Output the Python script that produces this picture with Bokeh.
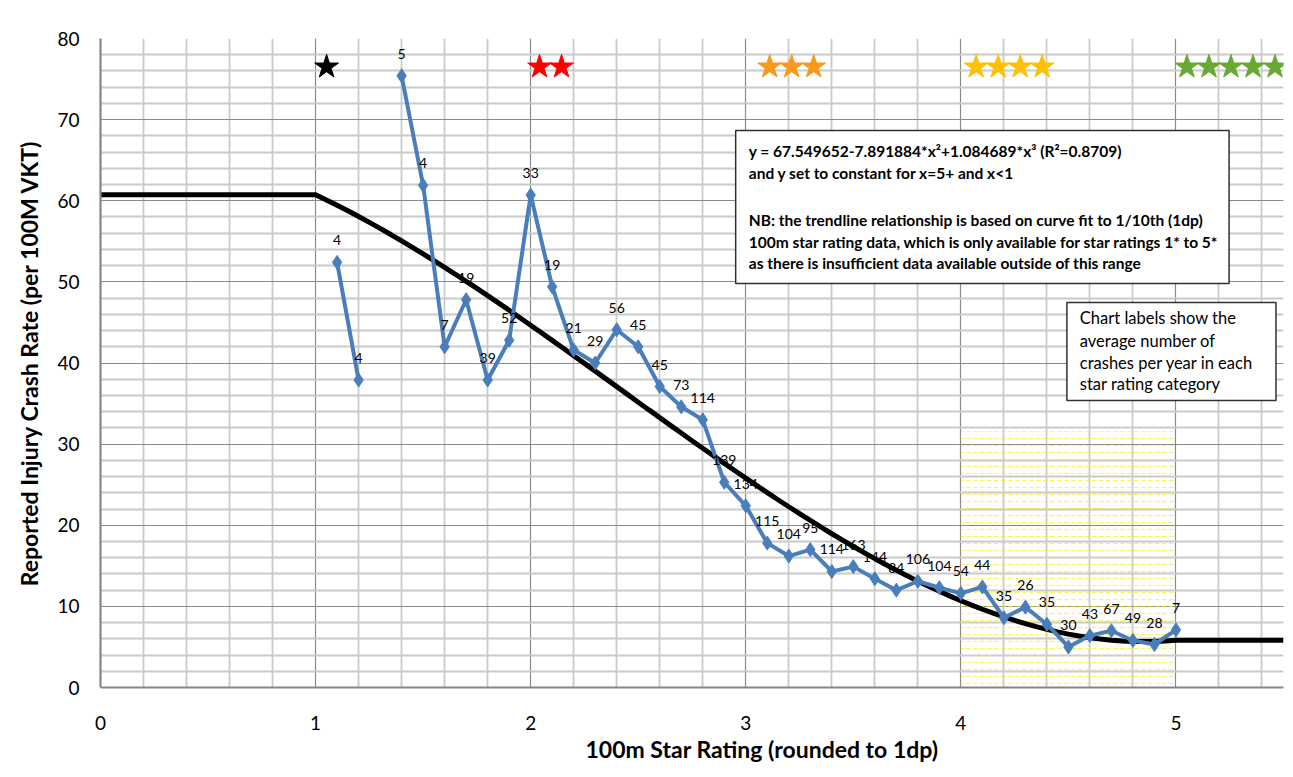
import numpy as np
from bokeh.plotting import figure
from bokeh.models import FixedTicker, ColumnDataSource, Range1d, Title
from bokeh.core.properties import value
from bokeh.embed import file_html
from bokeh.resources import INLINE

# ---------------- data ----------------
star_rating = [1.1, 1.2, 1.3, 1.4, 1.5, 1.6, 1.7, 1.8, 1.9, 2.0,
               2.1, 2.2, 2.3, 2.4, 2.5, 2.6, 2.7, 2.8, 2.9, 3.0,
               3.1, 3.2, 3.3, 3.4, 3.5, 3.6, 3.7, 3.8, 3.9, 4.0,
               4.1, 4.2, 4.3, 4.4, 4.5, 4.6, 4.7, 4.8, 4.9, 5.0]
crash_rate = [52.4, 37.9, np.nan, 75.4, 61.9, 42.0, 47.8, 37.9, 42.8, 60.7,
              49.4, 41.6, 40.0, 44.1, 42.0, 37.1, 34.6, 33.0, 25.3, 22.4,
              17.8, 16.2, 17.0, 14.3, 14.9, 13.4, 12.0, 13.1, 12.3, 11.6,
              12.4, 8.6, 9.9, 7.8, 5.0, 6.4, 7.0, 5.8, 5.3, 7.1]
crashes_per_year = ["4", "4", "", "5", "4", "7", "19", "39", "52", "33",
                    "19", "21", "29", "56", "45", "45", "73", "114", "139", "134",
                    "115", "104", "95", "114", "163", "144", "84", "106", "104", "54",
                    "44", "35", "26", "35", "30", "43", "67", "49", "28", "7"]

# trendline coefficients as stated on the chart: y = a + b*x^2 + c*x^3, constant for x<1 and x>=5
trend_a, trend_b, trend_c = 67.549652, -7.891884, 1.084689
trend_x = [0.0] + [round(1 + 0.05 * i, 2) for i in range(81)] + [5.5]

star_ratings = [1, 2, 3, 4, 5]
star_group_start = [1.0, 1.99, 3.06, 4.02, 5.0]
star_colors = ["#000000", "#FF0000", "#F59A1E", "#FFC000", "#68A833"]

x_ticks = [0, 1, 2, 3, 4, 5]
y_ticks = [0, 10, 20, 30, 40, 50, 60, 70, 80]

x_title = "100m Star Rating (rounded to 1dp)"
y_title = "Reported Injury Crash Rate (per 100M VKT)"

box1_lines = ["y = 67.549652-7.891884*x\u00b2+1.084689*x\u00b3 (R\u00b2=0.8709)",
              "and y set to constant for x=5+ and x<1",
              "NB: the trendline relationship is based on curve fit to 1/10th (1dp)",
              "100m star rating data, which is only available for star ratings 1* to 5*",
              "as there is insufficient data available outside of this range"]
box2_lines = ["Chart labels show the",
              "average  number of",
              "crashes per year in each",
              "star rating category"]

# ---------------- figure ----------------
FONT = "Lato"
p = figure(width=1293, height=777, output_backend="svg", toolbar_location=None,
           x_range=Range1d(0, 5.5), y_range=Range1d(0, 80),
           min_border_left=100, min_border_right=10, min_border_top=38, min_border_bottom=90)
p.outline_line_color = None
p.background_fill_color = "white"

minor_x = [round(0.2 * i, 1) for i in range(28) if (i % 5) != 0]
minor_y = [2 * i for i in range(41) if (i % 5) != 0]
p.xaxis.ticker = FixedTicker(ticks=x_ticks, minor_ticks=minor_x)
p.yaxis.ticker = FixedTicker(ticks=y_ticks, minor_ticks=minor_y)

for g in (p.xgrid, p.ygrid):
    g.grid_line_color = "#8a8a8a"
    g.grid_line_width = 1.2
    g.minor_grid_line_color = "#cacaca"
    g.minor_grid_line_width = 1.8

for ax in (p.xaxis, p.yaxis):
    ax.axis_line_color = "#868686"
    ax.axis_line_width = 2.2
    ax.major_tick_line_color = None
    ax.minor_tick_line_color = None
    ax.major_label_text_font = FONT
    ax.major_label_text_font_size = "19px"
    ax.major_label_text_color = "#000000"

p.xaxis.major_label_standoff = 22
p.yaxis.major_label_standoff = 15

p.yaxis.axis_label = y_title
p.yaxis.axis_label_text_font = FONT
p.yaxis.axis_label_text_font_style = "bold"
p.yaxis.axis_label_text_font_size = "23px"
p.yaxis.axis_label_text_color = "#000000"
p.yaxis.axis_label_standoff = 11

# x title sits right of centre in the original
p.add_layout(Title(text=x_title, align="left", offset=485, text_font=FONT,
                   text_font_style="bold", text_font_size="23px", text_color="#000000",
                   vertical_align="middle", standoff=2), "below")

# yellow dotted region (4* zone)
p.quad(left=[4], right=[5], bottom=[0], top=[31.6], fill_color=None, line_color=None,
       hatch_pattern="horizontal_dash", hatch_color="#F2EE00", hatch_alpha=0.6,
       hatch_scale=7, hatch_weight=1.2)

# trendline
tx = np.array(trend_x)
tc = np.clip(tx, 1, 5)
ty = trend_a + trend_b * tc ** 2 + trend_c * tc ** 3
p.line(tx, ty, line_color="black", line_width=5)

# data series
src = ColumnDataSource(dict(x=star_rating, y=crash_rate, lab=crashes_per_year))
p.line("x", "y", source=src, line_color="#4A7EBB", line_width=4)
p.scatter("x", "y", source=src, marker="diamond", size=14, fill_color="#4A7EBB", line_color="#4A7EBB")
p.text("x", "y", text="lab", source=src, text_font=value(FONT), text_font_size="14px",
       text_align="center", text_baseline="middle", y_offset=-22, text_color="#000000")

# stars (one star glyph per rating point in each category)
STAR_PITCH = 22 / 215.0
sx, sc = [], []
for n, start, col in zip(star_ratings, star_group_start, star_colors):
    for k in range(n):
        sx.append(start + (k + 0.5) * STAR_PITCH)
        sc.append(col)
p.scatter(x=sx, y=[76.5] * len(sx), marker="star", size=25, fill_color=sc, line_color=sc)

# box 1
p.quad(left=[2.953], right=[5.247], bottom=[49.8], top=[68.66], fill_color="white",
       line_color="#303030", line_width=1.5)
p.text(x=[3.014] * 5, y=[66.11, 63.36, 57.57, 54.89, 52.27], text=box1_lines,
       text_font=value(FONT), text_font_style="bold", text_font_size="15.5px",
       text_align="left", text_baseline="middle", text_color="#000000")

# box 2
p.quad(left=[4.493], right=[5.465], bottom=[35.38], top=[47.46], fill_color="white",
       line_color="#303030", line_width=1.5)
p.text(x=[4.553] * 4, y=[45.49, 42.69, 39.98, 37.35], text=box2_lines,
       text_font=value(FONT), text_font_size="16.5px",
       text_align="left", text_baseline="middle", text_color="#000000")

open("out.html", "w").write(file_html(p, INLINE))
